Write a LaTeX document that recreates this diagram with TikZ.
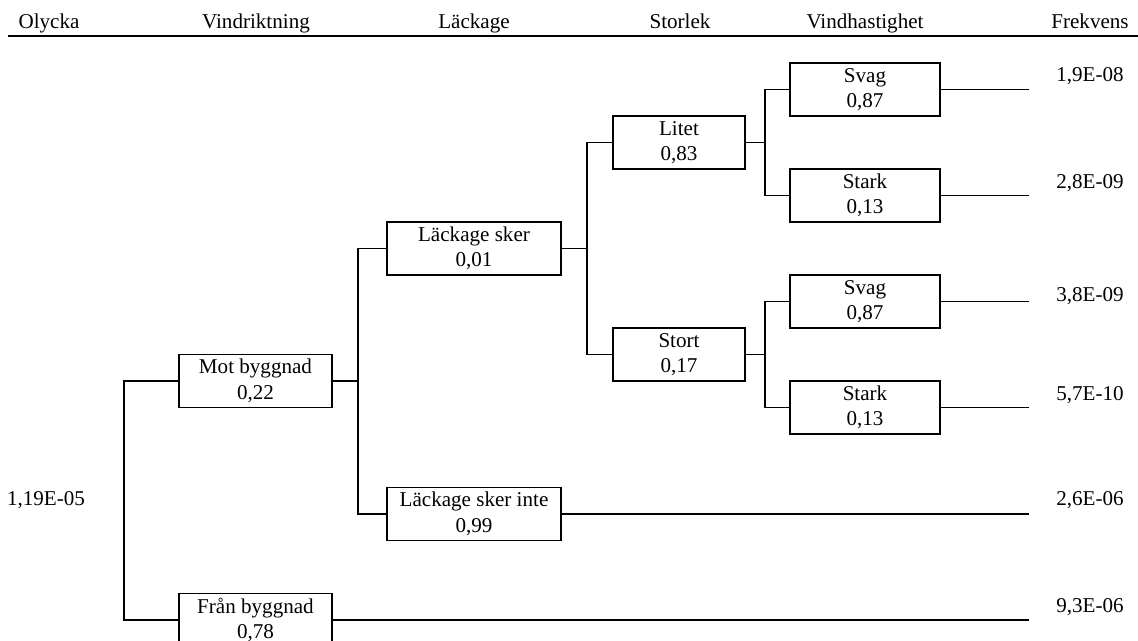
\documentclass[tikz,border=0pt]{standalone}
\usepackage{fontspec}
\setmainfont{Liberation Serif}
\usetikzlibrary{positioning}

\begin{document}
\begin{tikzpicture}[x=0.02cm,y=-0.02cm,
  txt/.style={font=\fontsize{12}{14.5}\selectfont,inner sep=0pt},
  event/.style={draw,line width=0.8pt,align=center,minimum height=1.06cm,inner sep=1pt,font=\fontsize{12}{14.5}\selectfont},
  branch/.style={line width=0.8pt}]
  \useasboundingbox (0,0) rectangle (1138,641);

  % Header
  \draw[line width=1.1pt] (8,36) -- (1138,36);
  \node[txt,anchor=base] (hOlycka) at (49,29) {Olycka};
  \node[txt,anchor=base] (hRikt) at (256,29) {Vindriktning};
  \node[txt,anchor=base] (hLack) at (474,29) {Läckage};
  \node[txt,anchor=base] (hStorlek) at (680,29) {Storlek};
  \node[txt,anchor=base] (hHast) at (865,29) {Vindhastighet};
  \node[txt,anchor=base] (hFrek) at (1090,29) {Frekvens};

  % Initial event
  \node[txt] (olycka) at (46,500) {1,19E-05};

  % Events
  \node[event,minimum width=3.06cm] (mot) at (255.5,381) {Mot byggnad\\0,22};
  \node[event,minimum width=3.06cm] (fran) at (255.5,620) {Från byggnad\\0,78};
  \node[event,minimum width=3.48cm] (lack) at (474,248.5) {Läckage sker\\0,01};
  \node[event,minimum width=3.48cm] (lackinte) at (474,514) {Läckage sker inte\\0,99};
  \node[event,minimum width=2.64cm] (litet) at (679,142.5) {Litet\\0,83};
  \node[event,minimum width=2.64cm] (stort) at (679,354.5) {Stort\\0,17};
  \node[event,minimum width=3.0cm] (svagA) at (865,89.5) {Svag\\0,87};
  \node[event,minimum width=3.0cm] (starkA) at (865,195.5) {Stark\\0,13};
  \node[event,minimum width=3.0cm] (svagB) at (865,301.5) {Svag\\0,87};
  \node[event,minimum width=3.0cm] (starkB) at (865,407.5) {Stark\\0,13};

  % Junctions
  \coordinate (j0) at (124,500);
  \coordinate (j1) at (358,381);
  \coordinate (j2) at (587,248.5);
  \coordinate (j3) at (765,142.5);
  \coordinate (j4) at (765,354.5);
  \coordinate (endx) at (1029,0);

  % Branches
  \draw[branch] (mot.west) -| (j0) |- (fran.west);
  \draw[branch] (mot.east) -- (j1);
  \draw[branch] (lack.west) -| (j1) |- (lackinte.west);
  \draw[branch] (lack.east) -- (j2);
  \draw[branch] (litet.west) -| (j2) |- (stort.west);
  \draw[branch] (litet.east) -- (j3);
  \draw[branch] (svagA.west) -| (j3) |- (starkA.west);
  \draw[branch] (stort.east) -- (j4);
  \draw[branch] (svagB.west) -| (j4) |- (starkB.west);

  % Outcomes
  \foreach \ev in {svagA,starkA,svagB,starkB,lackinte,fran}
    \draw[branch] (\ev.east) -- (\ev.east -| endx);

  % Frequencies
  \node[txt] (f1) at (1090,76) {1,9E-08};
  \node[txt] (f2) at (1090,183) {2,8E-09};
  \node[txt] (f3) at (1090,296) {3,8E-09};
  \node[txt] (f4) at (1090,395) {5,7E-10};
  \node[txt] (f5) at (1090,500) {2,6E-06};
  \node[txt] (f6) at (1090,607) {9,3E-06};
\end{tikzpicture}
\end{document}
